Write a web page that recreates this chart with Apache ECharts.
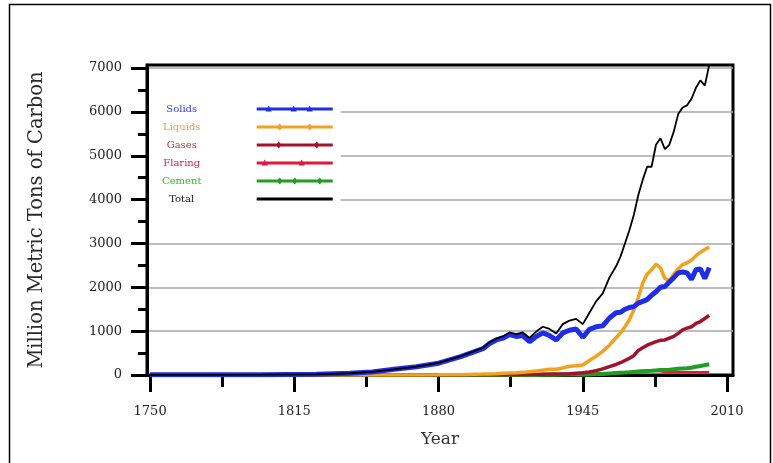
<!DOCTYPE html>
<html>
<head>
<meta charset="utf-8">
<script src="https://cdn.jsdelivr.net/npm/echarts@6/dist/echarts.min.js"></script>
<style>html,body{margin:0;padding:0;background:#fff}#c{width:773px;height:463px}</style>
</head>
<body>
<div id="c"></div>
<script>
const years = [1750,1775,1800,1825,1840,1850,1860,1870,1880,1890,
  1900,1903,1906,1909,1912,1915,1918,1921,1924,1927,1930,1933,1936,1939,1942,1945,1948,1951,1954,1957,
  1960,1962,1964,1966,1968,1970,1972,1974,1976,1978,1980,1982,1984,1986,1988,1990,1992,1994,1996,1998,2000,2002];
const solids = [3,5,8,15,40,70,130,190,270,420,
  600,720,800,840,920,880,900,760,880,960,900,800,960,1020,1050,860,1040,1100,1120,1300,
  1420,1430,1500,1540,1560,1640,1680,1720,1820,1900,2000,2020,2120,2220,2330,2350,2330,2180,2400,2420,2200,2450];
const liquids = [0,0,0,0,0,0,0,1,3,8,
  20,25,30,38,45,50,60,75,90,110,130,130,160,200,210,230,330,430,540,680,
  850,960,1100,1260,1480,1760,2100,2300,2400,2530,2440,2200,2150,2300,2420,2520,2560,2620,2720,2800,2860,2920];
const gases = [0,0,0,0,0,0,0,0,0,1,
  3,4,5,6,7,8,10,12,14,18,20,22,25,30,40,50,70,100,140,190,
  240,280,330,380,440,560,620,680,720,760,790,800,840,880,950,1030,1070,1100,1180,1220,1290,1360];
const flaring = [0,0,0,0,0,0,0,0,0,0,
  0,0,0,0,0,0,0,1,2,3,3,3,4,5,6,10,15,22,27,32,
  40,45,55,65,75,85,95,105,100,95,85,70,60,60,60,60,60,60,60,60,60,62];
const cement = [0,0,0,0,0,0,0,0,0,0,
  0,0,0,0,0,0,0,0,2,5,8,8,10,12,10,8,12,20,25,35,
  45,50,55,62,70,78,85,90,95,105,115,115,120,130,140,150,155,165,190,205,225,245];
const total = [3,5,8,15,40,70,130,190,275,430,
  620,745,830,885,970,935,970,845,990,1100,1050,945,1160,1240,1280,1160,1420,1680,1860,2220,
  2480,2700,3000,3300,3650,4100,4450,4750,4750,5250,5400,5150,5250,5550,5950,6100,6150,6300,6550,6720,6600,7080];

const seriesNames = ['Solids','Liquids','Gases','Flaring','Cement','Total'];
const seriesColors = ['#1e2ee8','#f2a21e','#a3122a','#e3173e','#1f9e1f','#000000'];
const legendTextColors = ['#3040e0','#f0a030','#b03848','#d82050','#30c030','#111111'];
const yMajor = [0,1000,2000,3000,4000,5000,6000,7000];
const yMinor = [500,1500,2500,3500,4500,5500,6500];
const xMajor = [1750,1815,1880,1945,2010];
const xMinor = [1782.5,1847.5,1912.5,1977.5];

// legend icon shapes (style only): line with small markers, in a 76x14 box
const frameBox = 'M0,0L0.01,0L0.01,0.01Z M75.99,13.99L76,13.99L76,14Z ';
const bar = 'M0,5.6L76,5.6L76,8.4L0,8.4Z ';
function tri(cx){ return 'M'+(cx-3)+',9.5L'+cx+',3.5L'+(cx+3)+',9.5Z '; }
function dia(cx){ return 'M'+(cx-3)+',7L'+cx+',3.5L'+(cx+3)+',7L'+cx+',10.5Z '; }
const legendIcons = [
  'path://' + frameBox + bar + tri(12) + tri(37) + tri(53),
  'path://' + frameBox + bar + dia(23) + dia(53),
  'path://' + frameBox + bar + dia(22) + dia(60),
  'path://' + frameBox + bar + tri(8) + tri(45),
  'path://' + frameBox + bar + dia(23) + dia(38) + dia(63),
  'path://' + frameBox + bar
];

function pairs(vals){ return years.map((y,i)=>[y, vals[i]]); }
const valueSets = [solids, liquids, gases, flaring, cement, total];
const widths = [5,3.5,3.5,2.5,4,1.8];
const zs = [5,4,3,2,2,6];

const font = 'DejaVu Serif';
const chart = echarts.init(document.getElementById('c'), null, {renderer:'canvas'});
const series = seriesNames.map((n,i)=>({
  name: n, type: 'line', data: pairs(valueSets[i]),
  xAxisIndex: 0, yAxisIndex: 0,
  showSymbol: false, symbol: 'none',
  color: seriesColors[i],
  lineStyle: {width: widths[i], color: seriesColors[i]},
  z: zs[i], animation: false, silent: true
}));
const plain = v => String(v);

chart.setOption({
  animation: false,
  backgroundColor: '#fff',
  graphic: [{type:'rect', shape:{x:9.5,y:4.5,width:761,height:480}, style:{fill:null, stroke:'#000', lineWidth:1.5}, silent:true}],
  grid: {left:147, right:40, top:65, bottom:88, show:true, borderColor:'#000', borderWidth:3, backgroundColor:'transparent'},
  legend: {
    orient:'vertical', left:149, top:92, align:'right',
    padding:[10,8,10,13], itemGap:4, itemWidth:76, itemHeight:14,
    backgroundColor:'#fff', selectedMode:false,
    data: seriesNames.map((n,i)=>({name:n, icon: legendIcons[i], itemStyle:{color: seriesColors[i]}, textStyle:{color: legendTextColors[i]}})),
    formatter: n => '{a|' + n + '}{b|}',
    textStyle: {fontFamily: font, fontSize: 10,
      rich: {a:{width:60, align:'center', fontFamily: font, fontSize:10}, b:{width:40, align:'right'}}}
  },
  xAxis: [{
    type:'value', min:1748.6, max:2012.7, position:'bottom',
    axisLine:{show:true, onZero:false, lineStyle:{color:'#000', width:3}},
    axisTick:{show:true, customValues: xMajor, length:17, lineStyle:{color:'#000', width:3}},
    axisLabel:{customValues: xMajor, formatter: plain, margin:30, fontFamily:font, fontSize:13, color:'#222'},
    splitLine:{show:false},
    name:'Year', nameLocation:'middle', nameGap:56,
    nameTextStyle:{fontFamily:font, fontSize:17, color:'#333'}
  },{
    type:'value', min:1748.6, max:2012.7, position:'bottom',
    axisLine:{show:false},
    axisTick:{show:true, customValues: xMinor, length:12, lineStyle:{color:'#000', width:3}},
    axisLabel:{show:false}, splitLine:{show:false}
  }],
  yAxis: [{
    type:'value', min:0, max:7070, interval:1000, position:'left',
    axisLine:{show:true, onZero:false, lineStyle:{color:'#000', width:3}},
    axisTick:{show:true, customValues: yMajor, length:16, lineStyle:{color:'#000', width:3}},
    axisLabel:{customValues: yMajor, formatter: plain, margin:25, fontFamily:font, fontSize:13, color:'#222'},
    splitLine:{show:true, lineStyle:{color:'#a8a8a8', width:1.5}},
    name:'Million Metric Tons of Carbon', nameLocation:'middle', nameGap:100,
    nameTextStyle:{fontFamily:font, fontSize:19.5, color:'#2a2a2a'}
  },{
    type:'value', min:0, max:7070, position:'left',
    axisLine:{show:false},
    axisTick:{show:true, customValues: yMinor, length:9, lineStyle:{color:'#000', width:3}},
    axisLabel:{show:false}, splitLine:{show:false}
  }],
  series: series
});
</script>
</body>
</html>
